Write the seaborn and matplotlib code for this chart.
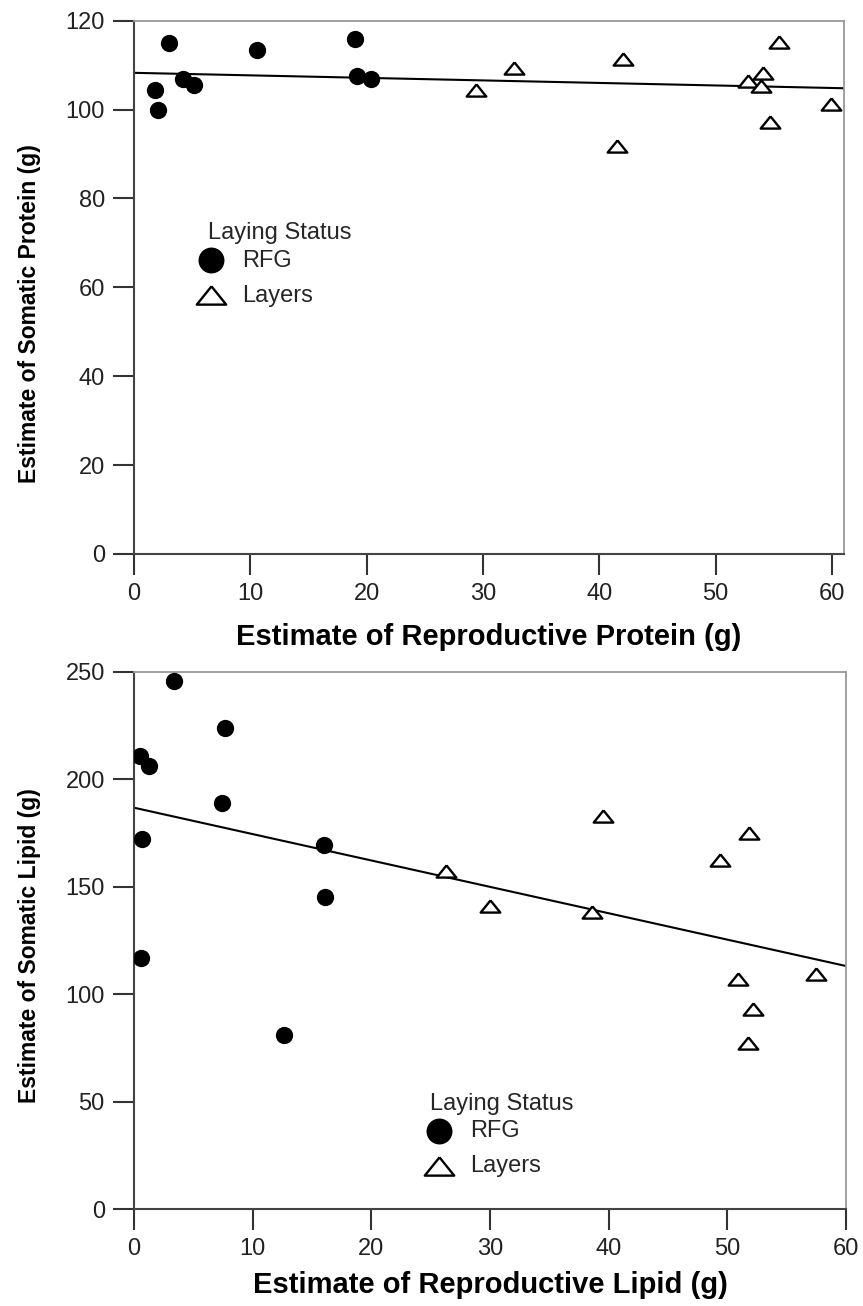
import numpy as np
import pandas as pd
import matplotlib
matplotlib.use("Agg")
import matplotlib.pyplot as plt
import seaborn as sns

sns.set_theme(style="white")
plt.rcParams['font.family'] = ['Liberation Sans', 'DejaVu Sans']

# ---- Top panel: protein ----
prot_rfg_x = [3.0, 1.8, 2.1, 4.2, 5.2, 10.6, 19.0, 19.2, 20.4]
prot_rfg_y = [114.9, 104.3, 99.9, 106.8, 105.5, 113.3, 115.9, 107.6, 106.9]
prot_lay_x = [29.4, 32.7, 42.0, 41.5, 52.8, 54.1, 53.9, 55.4, 54.7, 59.9]
prot_lay_y = [104.3, 109.4, 111.3, 91.7, 106.4, 108.3, 105.3, 115.1, 97.1, 101.2]

# ---- Bottom panel: lipid ----
lip_rfg_x = [3.4, 7.7, 0.5, 1.3, 7.4, 0.7, 16.0, 16.1, 0.6, 12.6]
lip_rfg_y = [245.8, 224.0, 210.9, 206.1, 188.8, 172.0, 169.4, 145.3, 116.7, 81.0]
lip_lay_x = [39.5, 51.8, 49.4, 26.3, 30.0, 38.6, 50.9, 57.5, 52.2, 51.7]
lip_lay_y = [182.9, 175.1, 162.4, 157.3, 141.0, 138.3, 106.9, 109.2, 92.9, 77.1]

groups = ["RFG", "Layers"]
legend_title = "Laying Status"

top_xlabel = "Estimate of Reproductive Protein (g)"
top_ylabel = "Estimate of Somatic Protein (g)"
bot_xlabel = "Estimate of Reproductive Lipid (g)"
bot_ylabel = "Estimate of Somatic Lipid (g)"

top_xticks = [0, 10, 20, 30, 40, 50, 60]
top_yticks = [0, 20, 40, 60, 80, 100, 120]
bot_xticks = [0, 10, 20, 30, 40, 50, 60]
bot_yticks = [0, 50, 100, 150, 200, 250]

tri = [(0.0, 0.62), (-1.0, -0.62), (1.0, -0.62), (0.0, 0.62)]

fig = plt.figure(figsize=(8.63, 13.06), dpi=100)
ax1 = fig.add_axes([134/863, 1-554/1306, (844-134)/863, (554-20.7)/1306])
ax2 = fig.add_axes([134/863, 1-1209/1306, (846-134)/863, (1209-671.7)/1306])


def panel(ax, rx, ry, lx, ly, xlim, ylim, xticks, yticks, xlabel, ylabel,
          leg_anchor, ylabel_pos, title_shift, xlabelpad):
    df = pd.DataFrame({
        "x": list(rx) + list(lx),
        "y": list(ry) + list(ly),
        "status": [groups[0]] * len(rx) + [groups[1]] * len(lx),
    })
    ax.set_xlim(*xlim)
    ax.set_ylim(*ylim)
    sns.regplot(data=df, x="x", y="y", scatter=False, ci=None, truncate=False,
                ax=ax, line_kws=dict(color="black", lw=1.5))
    d1 = df[df.status == groups[0]]
    d2 = df[df.status == groups[1]]
    sns.scatterplot(data=d1, x="x", y="y", ax=ax, marker="o", s=155,
                    color="black", edgecolor="black", linewidth=0, label=groups[0], zorder=3)
    sns.scatterplot(data=d2, x="x", y="y", ax=ax, marker=tri, s=200,
                    facecolor="white", edgecolor="black", linewidth=1.7, label=groups[1], zorder=3)
    ax.set_xlim(*xlim)
    ax.set_ylim(*ylim)
    ax.set_xticks(xticks)
    ax.set_yticks(yticks)
    ax.tick_params(axis="both", which="major", direction="out", length=15, width=1.5,
                   color="#333333", labelsize=17, labelcolor="#222222", pad=6,
                   bottom=True, left=True)
    ax.set_xlabel(xlabel, fontsize=21, fontweight="bold", labelpad=xlabelpad, color="black")
    ax.set_ylabel(ylabel, fontsize=16.5, fontweight="bold", color="black")
    ax.yaxis.set_label_coords(*ylabel_pos)
    for side in ["left", "bottom"]:
        ax.spines[side].set_color("#444444")
        ax.spines[side].set_linewidth(1.5)
    for side in ["top", "right"]:
        ax.spines[side].set_color("#999999")
        ax.spines[side].set_linewidth(1.3)
    leg = ax.legend(title=legend_title, loc="upper left", bbox_to_anchor=leg_anchor,
                    frameon=False, fontsize=17, title_fontsize=17, markerscale=1.5,
                    handlelength=1.2, handletextpad=0.75, labelspacing=0.55,
                    borderpad=0, borderaxespad=0, alignment="left")
    # tighter gap between the title and the first entry
    leg._legend_box.sep = 4
    leg.get_title().set_position((title_shift, 0))
    return leg


panel(ax1, prot_rfg_x, prot_rfg_y, prot_lay_x, prot_lay_y, (0, 61.03), (0, 120),
      top_xticks, top_yticks, top_xlabel, top_ylabel, (0.088, 0.6225), (-0.131, 0.45), 12, 13)
panel(ax2, lip_rfg_x, lip_rfg_y, lip_lay_x, lip_lay_y, (0, 60), (0, 250),
      bot_xticks, bot_yticks, bot_xlabel, bot_ylabel, (0.408, 0.216), (-0.131, 0.49), 6, 8)

fig.savefig("out.png", dpi=100)
